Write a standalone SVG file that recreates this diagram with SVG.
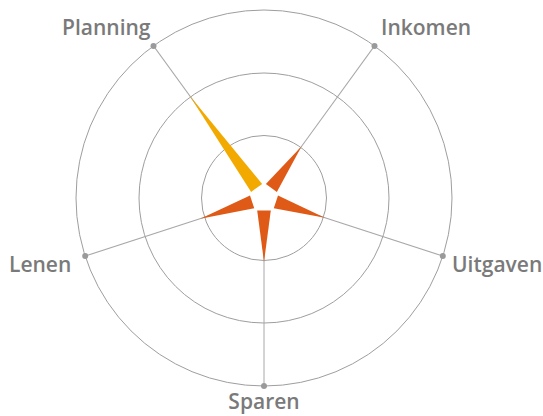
<svg xmlns="http://www.w3.org/2000/svg" width="543" height="416" viewBox="0 0 543 416">
  <style>
    .ring { fill: none; stroke: #9e9e9e; stroke-width: 1; }
    .spoke { stroke: #a8a8a8; stroke-width: 1; }
    .dot { fill: #9a9a9a; }
    .bar { fill: #DF5A16; }
    .bar-hi { fill: #F2A900; }
    .label { font-family: "Open Sans", "Liberation Sans", sans-serif; font-weight: 600; font-size: 21px; fill: #7a7a7a; }
  </style>
  <rect width="543" height="416" fill="#ffffff"/>
  <g id="grid">
    <circle class="ring" cx="264" cy="198" r="62.5"/>
    <circle class="ring" cx="264" cy="198" r="125"/>
    <circle class="ring" cx="264" cy="198" r="188"/>
  </g>
  <g id="connectors">
    <line class="spoke" x1="14" y1="0" x2="188" y2="0" transform="translate(264 198) rotate(90)"/>
    <line class="spoke" x1="14" y1="0" x2="188" y2="0" transform="translate(264 198) rotate(162)"/>
    <line class="spoke" x1="14" y1="0" x2="188" y2="0" transform="translate(264 198) rotate(234)"/>
    <line class="spoke" x1="14" y1="0" x2="188" y2="0" transform="translate(264 198) rotate(306)"/>
    <line class="spoke" x1="14" y1="0" x2="188" y2="0" transform="translate(264 198) rotate(18)"/>
  </g>
  <g id="planning">
    <polygon class="bar-hi" points="12.5,-6.8 12.5,6.8 127,0" transform="translate(264 198) rotate(234)"/>
    <circle class="dot" cx="153.5" cy="45.9" r="3"/>
    <text class="label" x="62" y="35">Planning</text>
  </g>
  <g id="inkomen">
    <polygon class="bar" points="12.5,-6.8 12.5,6.8 64,0" transform="translate(264 198) rotate(306)"/>
    <circle class="dot" cx="374.5" cy="45.9" r="3"/>
    <text class="label" x="381" y="35">Inkomen</text>
  </g>
  <g id="uitgaven">
    <polygon class="bar" points="12.5,-6.8 12.5,6.8 64,0" transform="translate(264 198) rotate(18)"/>
    <circle class="dot" cx="442.8" cy="256.1" r="3"/>
    <text class="label" x="452" y="272">Uitgaven</text>
  </g>
  <g id="sparen">
    <polygon class="bar" points="12.5,-6.8 12.5,6.8 64,0" transform="translate(264 198) rotate(90)"/>
    <circle class="dot" cx="264" cy="386" r="3"/>
    <text class="label" x="264" y="409" text-anchor="middle">Sparen</text>
  </g>
  <g id="lenen">
    <polygon class="bar" points="12.5,-6.8 12.5,6.8 67,0" transform="translate(264 198) rotate(162)"/>
    <circle class="dot" cx="85.2" cy="256.1" r="3"/>
    <text class="label" x="9" y="272">Lenen</text>
  </g>
</svg>
